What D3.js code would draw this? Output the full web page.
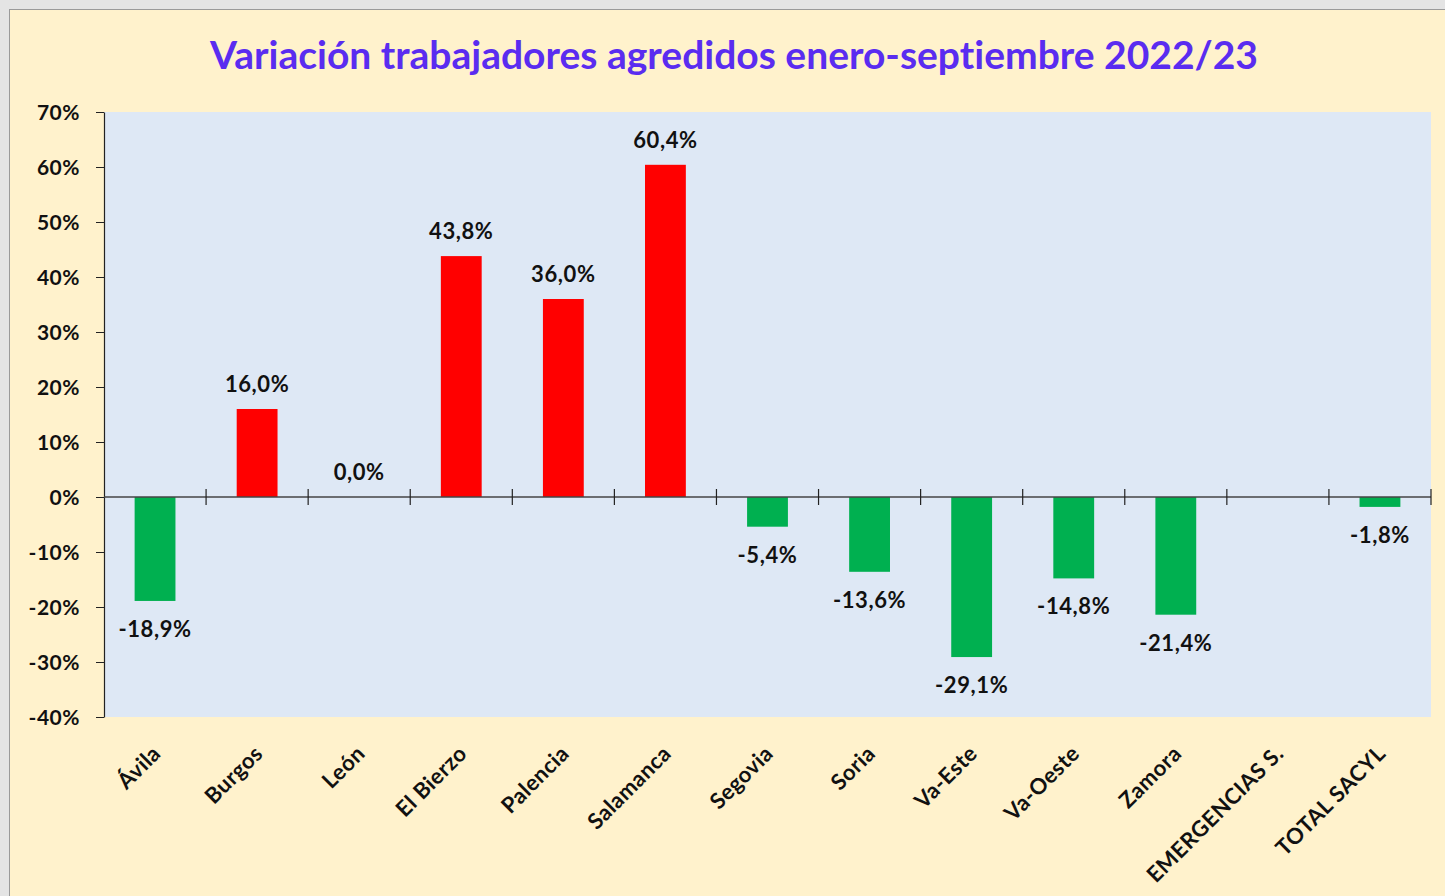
<!DOCTYPE html>
<html>
<head>
<meta charset="utf-8">
<script src="https://cdn.jsdelivr.net/npm/d3@7"></script>
<style>
  html, body { margin: 0; padding: 0; background: #e4e4e4; }
  svg { display: block; }
  text { font-family: Lato, "Open Sans", sans-serif; font-weight: bold; font-variant-ligatures: none; }
</style>
</head>
<body>
<svg id="chart" width="1445" height="896"></svg>
<script>
const title = "Variación trabajadores agredidos enero-septiembre 2022/23";
const categories = ["Ávila", "Burgos", "León", "El Bierzo", "Palencia", "Salamanca", "Segovia", "Soria", "Va-Este", "Va-Oeste", "Zamora", "EMERGENCIAS S.", "TOTAL SACYL"];
const values = [-18.9, 16.0, 0.0, 43.8, 36.0, 60.4, -5.4, -13.6, -29.1, -14.8, -21.4, null, -1.8];
const yTicks = [70, 60, 50, 40, 30, 20, 10, 0, -10, -20, -30, -40];

const svg = d3.select("#chart");
const W = 1445, H = 896;
const plot = { left: 104, right: 1431, top: 112, bottom: 717 };

// frame
svg.append("rect").attr("x", 9.5).attr("y", 9.5).attr("width", W).attr("height", H)
  .attr("fill", "#fff2cc").attr("stroke", "#9a9a9a").attr("stroke-width", 1);

// plot area
svg.append("rect").attr("x", plot.left).attr("y", plot.top)
  .attr("width", plot.right - plot.left).attr("height", plot.bottom - plot.top)
  .attr("fill", "#dee8f5");

const x = d3.scaleBand().domain(categories).range([plot.left, plot.right]).paddingInner(0).paddingOuter(0);
const y = d3.scaleLinear().domain([-40, 70]).range([plot.bottom, plot.top]);
const fmt = v => d3.format(".1f")(v).replace(".", ",").replace("\u2212", "-") + "%";

// title
svg.append("text").attr("x", 734).attr("y", 69).attr("text-anchor", "middle")
  .attr("fill", "#5a2cf0").attr("font-size", 39).text(title);

// y axis
const yAxis = d3.axisLeft(y).tickValues(yTicks).tickSize(8).tickSizeOuter(0)
  .tickFormat(d => String(d) + "%");
const gy = svg.append("g").attr("transform", `translate(${plot.left},0)`).call(yAxis);
gy.select(".domain").attr("stroke", "#222").attr("stroke-width", 1.2);
gy.selectAll(".tick line").attr("stroke", "#222");
gy.selectAll(".tick text").attr("font-size", 21).attr("fill", "#111").attr("letter-spacing", 0.5)
  .attr("font-family", "Lato, sans-serif").attr("font-weight", "bold").attr("x", -24).attr("dy", "0.34em");

// bars
const bw = x.bandwidth() * 0.4;
svg.append("g").selectAll("rect").data(categories.map((c, i) => ({ c, v: values[i] })).filter(d => d.v !== null && d.v !== 0))
  .join("rect")
  .attr("x", d => x(d.c) + (x.bandwidth() - bw) / 2)
  .attr("width", bw)
  .attr("y", d => y(Math.max(0, d.v)))
  .attr("height", d => Math.abs(y(d.v) - y(0)))
  .attr("fill", d => d.v > 0 ? "#ff0000" : "#00b050");

// zero axis with cross ticks
const gx = svg.append("g").attr("transform", `translate(0,${y(0)})`);
gx.append("line").attr("x1", plot.left).attr("x2", plot.right).attr("stroke", "#444").attr("stroke-width", 1.5);
const boundaries = categories.map(c => x(c)).concat([plot.right]).slice(1);
gx.selectAll("line.tk").data(boundaries).join("line").attr("class", "tk")
  .attr("x1", d => d).attr("x2", d => d).attr("y1", -8).attr("y2", 8).attr("stroke", "#222").attr("stroke-width", 1.2);

// data labels
svg.append("g").selectAll("text").data(categories.map((c, i) => ({ c, v: values[i] })).filter(d => d.v !== null))
  .join("text")
  .attr("x", d => x(d.c) + x.bandwidth() / 2)
  .attr("y", d => d.v >= 0 ? y(d.v) - 17 : y(d.v) + 36)
  .attr("text-anchor", "middle").attr("font-size", 22).attr("letter-spacing", 0.6).attr("fill", "#111")
  .text(d => fmt(d.v));

// category labels
svg.append("g").selectAll("text").data(categories).join("text")
  .attr("transform", d => `translate(${x(d) + x.bandwidth() / 2 + 7},${755}) rotate(-45)`)
  .attr("text-anchor", "end").attr("font-size", 22).attr("letter-spacing", 0.4).attr("fill", "#111")
  .text(d => d);
</script>
</body>
</html>
